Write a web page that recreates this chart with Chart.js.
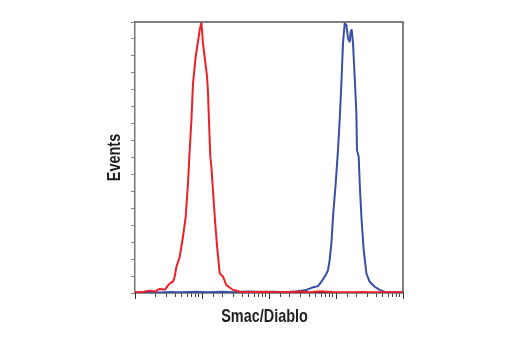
<!DOCTYPE html>
<html>
<head>
<meta charset="utf-8">
<script src="https://cdn.jsdelivr.net/npm/chart.js@4/dist/chart.umd.min.js"></script>
<style>
  html, body { margin: 0; padding: 0; background: #ffffff; }
  canvas { display: block; }
</style>
</head>
<body>
<canvas id="histo" width="520" height="350"></canvas>
<script>
// Fluorescence intensity (log axis) and event counts for each sample
const redFluor = [1, 1.3, 1.66, 2.0, 2.33, 2.8, 3.3, 3.69, 3.91, 4.15, 4.65, 5.2, 5.71, 6.18, 6.55, 6.95, 7.34, 8.05, 8.71, 9.24, 9.79, 10.35, 11.9, 12.3, 12.7, 13.3, 13.8, 15.5, 16.8, 18.4, 20.6, 23.1, 29.0, 36.5, 50, 80, 120, 200, 300, 400, 600, 900, 1500, 2500, 4000, 10000];
const redCounts = [0.4, 0.6, 1.4, 0.9, 2.4, 2.0, 5.7, 6.7, 9.6, 15.5, 21.4, 33.2, 45.0, 64.8, 84.4, 102.1, 123.8, 139.5, 148.4, 155.3, 159.6, 147.4, 127.7, 117.9, 102.1, 80.5, 74.6, 45.0, 27.3, 11.6, 9.6, 4.7, 1.8, 0.8, 0.5, 0.7, 0.4, 0.6, 0.9, 0.5, 1.0, 0.6, 0.4, 0.6, 0.4, 0.5];

const blueFluor = [1, 1.5, 2.2, 3.5, 5, 8, 12, 20, 30, 50, 80, 120, 180, 250, 361, 454, 539, 605, 678, 760, 805, 853, 902, 990, 1071, 1135, 1204, 1271, 1349, 1429, 1510, 1600, 1656, 1714, 1794, 1900, 2014, 2057, 2181, 2258, 2393, 2589, 2842, 3185, 3781, 4491, 5333, 7000, 10000];
const blueCounts = [0.3, 0.5, 0.3, 0.6, 0.4, 0.7, 0.4, 0.8, 0.5, 0.9, 0.6, 0.8, 0.5, 0.9, 1.8, 3.4, 4.1, 6.7, 9.6, 13.6, 19.5, 29.3, 45.0, 64.8, 84.4, 102.1, 123.8, 147.4, 159.2, 158.2, 150.4, 148.4, 154.3, 155.3, 147.4, 127.7, 106.1, 84.4, 80.5, 64.8, 45.0, 25.4, 11.6, 6.7, 3.7, 1.8, 0.8, 0.5, 0.4];

// Axis range and titles
const xRange = [1, 10000];
const yRange = [0, 160];
const yStep = 10;
const xTitle = 'Smac/Diablo';
const yTitle = 'Events';

const toPoints = (xs, ys) => xs.map((v, i) => ({ x: v, y: ys[i] }));

// Condensed bold look: a regular bold sans squeezed horizontally
const titleFont = "bold 19px 'Liberation Sans', Arial, sans-serif";
const squeeze = 0.76;

// Top/right frame, longer decade marks and the two axis titles
const decor = {
  id: 'decor',
  afterDraw(chart) {
    const { ctx, chartArea: a, scales } = chart;
    ctx.save();
    ctx.strokeStyle = '#555555';
    ctx.lineWidth = 1.5;
    ctx.beginPath();
    ctx.moveTo(a.left, a.top);
    ctx.lineTo(a.right, a.top);
    ctx.lineTo(a.right, a.bottom);
    ctx.stroke();

    ctx.strokeStyle = '#333333';
    ctx.lineWidth = 1;
    for (let v = xRange[0]; v <= xRange[1]; v *= 10) {
      const px = Math.round(scales.x.getPixelForValue(v)) + 0.5;
      ctx.beginPath();
      ctx.moveTo(px, a.bottom);
      ctx.lineTo(px, a.bottom + 6);
      ctx.stroke();
    }

    ctx.fillStyle = '#231f20';
    ctx.font = titleFont;
    ctx.textAlign = 'center';
    ctx.textBaseline = 'alphabetic';

    ctx.save();
    ctx.translate((a.left + a.right) / 2 - 4.5, a.bottom + 28.5);
    ctx.scale(squeeze, 1);
    ctx.fillText(xTitle, 0, 0);
    ctx.restore();

    ctx.save();
    ctx.translate(a.left - 15, (a.top + a.bottom) / 2);
    ctx.rotate(-Math.PI / 2);
    ctx.scale(squeeze, 1);
    ctx.fillText(yTitle, 0, 0);
    ctx.restore();

    ctx.restore();
  }
};

new Chart(document.getElementById('histo'), {
  type: 'line',
  data: {
    datasets: [
      {
        label: 'isotype',
        data: toPoints(redFluor, redCounts),
        borderColor: 'rgb(236, 32, 38)',
        borderWidth: 2,
        pointRadius: 0,
        tension: 0.02,
        fill: false
      },
      {
        label: 'Smac/Diablo',
        data: toPoints(blueFluor, blueCounts),
        borderColor: 'rgb(58, 78, 164)',
        borderWidth: 2,
        pointRadius: 0,
        tension: 0.02,
        fill: false
      }
    ]
  },
  options: {
    responsive: false,
    animation: false,
    layout: { padding: { left: 131, right: 117, top: 22, bottom: 53 } },
    plugins: {
      legend: { display: false },
      tooltip: { enabled: false }
    },
    scales: {
      x: {
        type: 'logarithmic',
        min: xRange[0],
        max: xRange[1],
        ticks: { display: false },
        grid: { drawOnChartArea: false, drawTicks: true, tickLength: 4, color: '#444444' },
        border: { color: '#1b1b30', width: 1.5 }
      },
      y: {
        type: 'linear',
        min: yRange[0],
        max: yRange[1],
        ticks: { display: false, stepSize: yStep },
        grid: { drawOnChartArea: false, drawTicks: true, tickLength: 4, color: '#888888' },
        border: { color: '#777777', width: 1.5 }
      }
    }
  },
  plugins: [decor]
});
</script>
</body>
</html>
